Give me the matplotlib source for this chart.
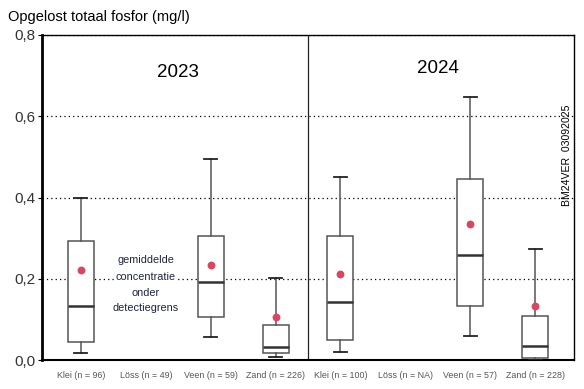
import matplotlib
matplotlib.use("Agg")
import matplotlib.pyplot as plt

# Data
categories = ["Klei (n = 96)", "Löss (n = 49)", "Veen (n = 59)", "Zand (n = 226)",
              "Klei (n = 100)", "Löss (n = NA)", "Veen (n = 57)", "Zand (n = 228)"]
positions = [1, 3, 4, 5, 7, 8]
whislo = [0.017, 0.057, 0.007, 0.020, 0.059, 0.000]
q1     = [0.045, 0.106, 0.017, 0.049, 0.133, 0.005]
med    = [0.133, 0.192, 0.033, 0.143, 0.258, 0.035]
q3     = [0.293, 0.305, 0.086, 0.305, 0.446, 0.108]
whishi = [0.400, 0.495, 0.202, 0.451, 0.647, 0.273]
means  = [0.221, 0.234, 0.106, 0.212, 0.335, 0.133]
yticks = [0.0, 0.2, 0.4, 0.6, 0.8]
ytick_labels = ["0,0", "0,2", "0,4", "0,6", "0,8"]
years = ["2023", "2024"]

plt.rcParams['font.family'] = ['Liberation Sans', 'DejaVu Sans']

fig = plt.figure(figsize=(5.84, 3.89), dpi=100)
ax = fig.add_axes([42/584, 1-360/389, (574-42)/584, (360-35)/389])

ax.set_xlim(0.4, 8.6)
ax.set_ylim(0, 0.8)

for y in yticks[1:]:
    ax.axhline(y, color='black', lw=0.9, ls=(0, (1, 2.5)), zorder=1)

stats = []
for i in range(len(positions)):
    stats.append(dict(whislo=whislo[i], q1=q1[i], med=med[i], q3=q3[i],
                      whishi=whishi[i], fliers=[]))
ax.bxp(stats, positions=positions, widths=0.4, patch_artist=True,
       showfliers=False,
       boxprops=dict(facecolor='white', edgecolor='#555555', lw=1.1),
       medianprops=dict(color='#333333', lw=1.8),
       whiskerprops=dict(color='#555555', lw=1.1),
       capprops=dict(color='#222222', lw=1.3),
       zorder=3)
ax.scatter(positions, means, s=32, color='#dc4560', marker='o', zorder=4, lw=0)

ax.axvline(4.5, color='#222222', lw=0.9, zorder=2)

ax.set_yticks(yticks)
ax.set_yticklabels(ytick_labels, fontsize=11, color='#333333')
ax.tick_params(axis='y', length=3, width=0.8, pad=2)
ax.set_xticks(range(1, 9))
ax.set_xticklabels(categories, fontsize=6.4, color='#555555')
ax.tick_params(axis='x', length=0, pad=8)

for s in ['top', 'right']:
    ax.spines[s].set_linewidth(1.0)
ax.spines['left'].set_linewidth(2.0)
ax.spines['bottom'].set_linewidth(1.5)

ax.text(2.5, 0.707, years[0], fontsize=13.5, ha='center', va='center')
ax.text(6.5, 0.717, years[1], fontsize=13.5, ha='center', va='center')

note = ["gemiddelde", "concentratie", "onder", "detectiegrens"]
note_y = [0.246, 0.204, 0.166, 0.127]
for t, yy in zip(note, note_y):
    ax.text(2, yy, t, fontsize=7.8, ha='center', va='center', color='#1c2340',
            bbox=dict(facecolor='white', edgecolor='none', pad=0.3), zorder=5)

ax.text(567/584, 1-155/389, "BM24VER  03092025", transform=fig.transFigure,
        rotation=90, fontsize=7.6, ha='center', va='center')

fig.text(8/584, 1-17/389, "Opgelost totaal fosfor (mg/l)", fontsize=10.5,
         ha='left', va='center')

fig.savefig("out.png", dpi=100)
